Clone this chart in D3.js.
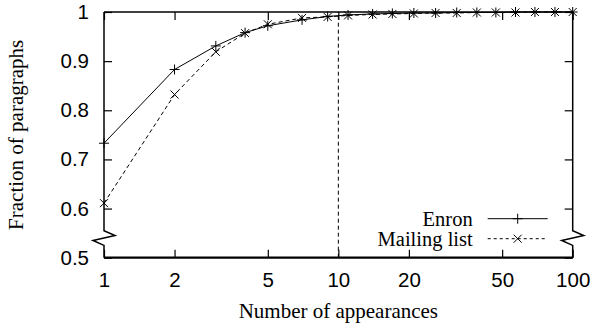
<!DOCTYPE html>
<html>
<head>
<meta charset="utf-8">
<script src="https://cdn.jsdelivr.net/npm/d3@7"></script>
<style>
body { margin: 0; background: #fff; }
svg { font-family: "Liberation Serif", "Times New Roman", serif; }
</style>
</head>
<body>
<div id="chart"></div>
<script>
// data
var appearances = [1, 2, 3, 4, 5, 7, 9, 11, 14, 17, 21, 26, 32, 39, 47, 57, 69, 84, 100];
var enron   = [0.733, 0.883, 0.931, 0.958, 0.972, 0.984, 0.991, 0.994, 0.996, 0.997, 0.998, 0.998, 0.999, 0.999, 0.999, 1, 1, 1, 1];
var mailing = [0.611, 0.832, 0.919, 0.957, 0.975, 0.988, 0.990, 0.993, 0.995, 0.996, 0.997, 0.998, 0.998, 0.999, 0.999, 0.999, 1, 1, 1];
var xTicks = [1, 2, 5, 10, 20, 50, 100];
var yTicks = [0.5, 0.6, 0.7, 0.8, 0.9, 1];
var seriesNames = ["Enron", "Mailing list"];
var cutoff = 10;
// axis break (zigzag) between these values
var breakVals = [0.555, 0.545, 0.535, 0.525];

var margin = {top: 12, right: 19.3, bottom: 69.3, left: 104},
    width = 592 - margin.left - margin.right,
    height = 327 - margin.top - margin.bottom;

var svg = d3.select("#chart")
  .append("svg")
  .attr("width", 592)
  .attr("height", 327)
  .append("g")
  .attr("transform", "translate(" + margin.left + "," + margin.top + ")");

var x = d3.scaleLog().domain([1, 100]).range([0, width]);
var y = d3.scaleLinear().domain([0.5, 1]).range([height, 0]);

// ticks: bottom + mirrored top, left + mirrored right
var bottomAxis = svg.append("g")
  .attr("transform", "translate(0," + height + ")")
  .call(d3.axisBottom(x).tickValues(xTicks).tickFormat(d3.format("d")).tickSize(-8).tickPadding(15));
var topAxis = svg.append("g")
  .call(d3.axisTop(x).tickValues(xTicks).tickFormat("").tickSize(-8));
var leftAxis = svg.append("g")
  .call(d3.axisLeft(y).tickValues(yTicks).tickFormat(function(d) { return d === 1 ? "1" : d3.format(".1f")(d); }).tickSize(-8).tickPadding(15));
var rightAxis = svg.append("g")
  .attr("transform", "translate(" + width + ",0)")
  .call(d3.axisRight(y).tickValues(yTicks).tickFormat("").tickSize(-8));

[bottomAxis, topAxis, leftAxis, rightAxis].forEach(function(a) {
  a.select(".domain").remove();
  a.selectAll("line").attr("stroke", "#000").attr("stroke-width", 1.2);
  a.selectAll("text").attr("fill", "#000").style("font-size", "20.5px");
});
bottomAxis.selectAll("text").attr("dy", "0.71em");

// frame with broken axis on both sides
var frameStyle = function(p) {
  p.attr("fill", "none").attr("stroke", "#000").attr("stroke-width", 1.5);
};
svg.append("line").attr("x1", 0).attr("x2", width).attr("y1", 0).attr("y2", 0).call(frameStyle);
svg.append("line").attr("x1", 0).attr("x2", width).attr("y1", height).attr("y2", height)
  .attr("fill", "none").attr("stroke", "#000").attr("stroke-width", 2.2);

function brokenSide(x0, dir) {
  var pts = [
    [x0, y(1)],
    [x0, y(breakVals[0])],
    [x0 + 11 * dir, y(breakVals[1])],
    [x0 - 11 * dir, y(breakVals[2])],
    [x0, y(breakVals[3])],
    [x0, y(0.5)]
  ];
  svg.append("path").attr("d", d3.line()(pts)).call(frameStyle);
}
brokenSide(0, 1);
brokenSide(width, 1);

// vertical cutoff line
svg.append("line")
  .attr("x1", x(cutoff)).attr("x2", x(cutoff))
  .attr("y1", y(0.5)).attr("y2", y(1))
  .attr("stroke", "#000").attr("stroke-width", 1)
  .attr("stroke-dasharray", "4,3");

// series
var line = d3.line()
  .x(function(d) { return x(d[0]); })
  .y(function(d) { return y(d[1]); });

var enronData = appearances.map(function(a, i) { return [a, enron[i]]; });
var mailingData = appearances.map(function(a, i) { return [a, mailing[i]]; });

svg.append("path").datum(mailingData).attr("d", line)
  .attr("fill", "none").attr("stroke", "#000").attr("stroke-width", 1)
  .attr("stroke-dasharray", "4,3");
svg.append("path").datum(enronData).attr("d", line)
  .attr("fill", "none").attr("stroke", "#000").attr("stroke-width", 1);

var plusPath = "M-5,0H5M0,-5V5";
var crossPath = "M-4,-4L4,4M-4,4L4,-4";

svg.selectAll(".pt-enron").data(enronData).enter()
  .append("path").attr("class", "pt-enron")
  .attr("transform", function(d) { return "translate(" + x(d[0]) + "," + y(d[1]) + ")"; })
  .attr("d", plusPath).attr("stroke", "#000").attr("stroke-width", 1);
svg.selectAll(".pt-mail").data(mailingData).enter()
  .append("path").attr("class", "pt-mail")
  .attr("transform", function(d) { return "translate(" + x(d[0]) + "," + y(d[1]) + ")"; })
  .attr("d", crossPath).attr("stroke", "#000").attr("stroke-width", 1);

// legend
var legend = svg.append("g").attr("transform", "translate(" + (width - 24) + "," + (height - 39) + ")");
seriesNames.forEach(function(name, i) {
  var g = legend.append("g").attr("transform", "translate(0," + (i * 20) + ")");
  g.append("text").attr("x", -76).attr("y", 0).attr("dy", "0.35em")
    .attr("text-anchor", "end").style("font-size", "20.5px").text(name);
  g.append("line").attr("x1", -61).attr("x2", -1).attr("y1", 0).attr("y2", 0)
    .attr("stroke", "#000").attr("stroke-width", 1)
    .attr("stroke-dasharray", i === 1 ? "3,3" : null);
  g.append("path").attr("transform", "translate(-31,0)")
    .attr("d", i === 0 ? plusPath : crossPath)
    .attr("stroke", "#000").attr("stroke-width", 1);
});

// axis titles
svg.append("text")
  .attr("x", width / 2).attr("y", height + 60)
  .attr("text-anchor", "middle").style("font-size", "21px")
  .text("Number of appearances");
svg.append("text")
  .attr("transform", "translate(" + (-81) + "," + (height / 2) + ") rotate(-90)")
  .attr("text-anchor", "middle").style("font-size", "21px")
  .text("Fraction of paragraphs");
</script>
</body>
</html>
